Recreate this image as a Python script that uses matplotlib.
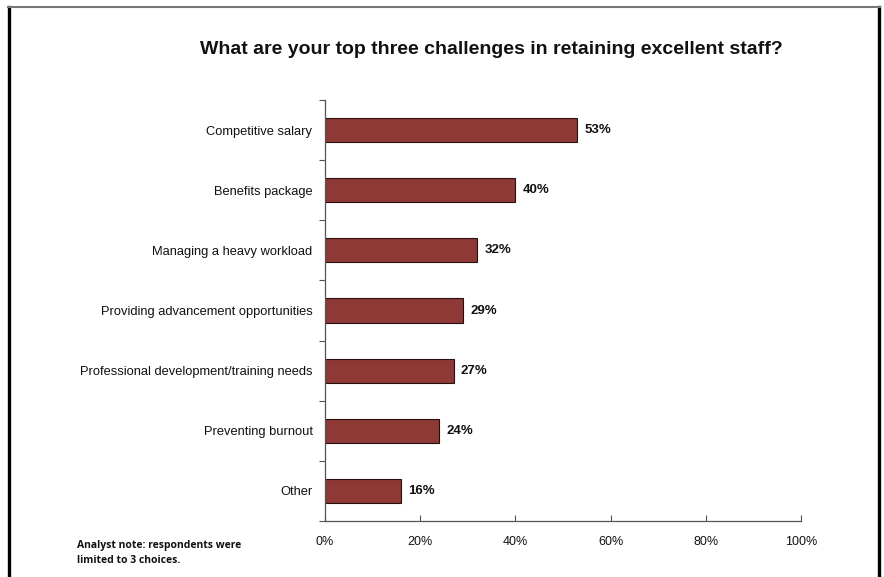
import matplotlib
matplotlib.use("Agg")
import matplotlib.pyplot as plt
from matplotlib.lines import Line2D
from matplotlib.ticker import FuncFormatter, MultipleLocator

categories = [
    "Competitive salary",
    "Benefits package",
    "Managing a heavy workload",
    "Providing advancement opportunities",
    "Professional development/training needs",
    "Preventing burnout",
    "Other",
]
values = [53, 40, 32, 29, 27, 24, 16]

title = "What are your top three challenges in retaining excellent staff?"
note = "Analyst note: respondents were\nlimited to 3 choices."

plt.rcParams["font.family"] = ["Liberation Sans", "DejaVu Sans"]

W, H = 884, 577
fig = plt.figure(figsize=(W / 100, H / 100), dpi=100)
ax = fig.add_axes([325 / W, 1 - 521 / H, (801 - 325) / W, (521 - 100) / H])

pos = list(range(len(categories)))
ax.barh(pos, values, height=0.4, color="#8E3935", edgecolor="#2a1010", linewidth=0.8)
for p, v in zip(pos, values):
    ax.text(v + 1.5, p, f"{v}%", va="center", ha="left", fontsize=9.5,
            fontweight="bold", color="#111111")

ax.set_xlim(0, 100)
ax.set_ylim(len(categories) - 0.5, -0.5)
ax.xaxis.set_major_locator(MultipleLocator(20))
ax.xaxis.set_major_formatter(FuncFormatter(lambda x, _: f"{x:.0f}%"))
ax.tick_params(axis="x", direction="in", length=4, width=0.8, color="#555555",
               labelsize=9, pad=11, labelcolor="#111111")

# category labels centred on bars, boundary ticks between categories
ax.set_yticks(pos)
ax.set_yticklabels(categories, fontsize=9.3, color="#111111")
ax.tick_params(axis="y", which="major", length=0, pad=9)
ax.set_yticks([p - 0.5 for p in pos] + [len(pos) - 0.5], minor=True)
ax.tick_params(axis="y", which="minor", direction="out", length=4, width=0.8,
               color="#555555")

for s in ("top", "right"):
    ax.spines[s].set_visible(False)
for s in ("left", "bottom"):
    ax.spines[s].set_color("#555555")
    ax.spines[s].set_linewidth(0.9)

fig.text(491 / W, 1 - 49 / H, title, ha="center", va="center", fontsize=14,
         fontweight="bold", color="#111111")
fig.text(77 / W, 1 - 553 / H, note, ha="left", va="center", fontsize=7.5,
         fontweight="bold", family=["Open Sans", "DejaVu Sans"],
         color="#111111", linespacing=1.6)

# outer frame around the slide
fig.add_artist(Line2D([9 / W, 9 / W], [0, 1 - 7 / H], transform=fig.transFigure,
                      color="black", linewidth=2.4))
fig.add_artist(Line2D([879 / W, 879 / W], [0, 1 - 7 / H], transform=fig.transFigure,
                      color="black", linewidth=2.4))
fig.add_artist(Line2D([8 / W, 880 / W], [1 - 7 / H, 1 - 7 / H],
                      transform=fig.transFigure, color="#777777", linewidth=1.5))

fig.savefig("out.png", dpi=100, facecolor="white")
